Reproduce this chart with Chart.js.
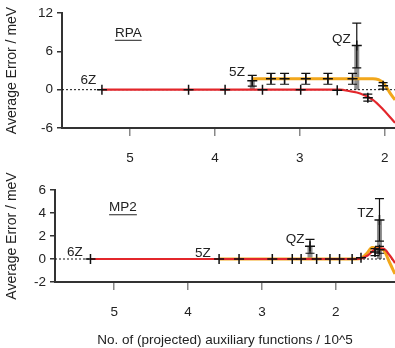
<!DOCTYPE html>
<html>
<head>
<meta charset="utf-8">
<script src="https://cdn.jsdelivr.net/npm/chart.js@4"></script>
<style>
  body { margin: 0; background: #fff; }
  #wrap { position: relative; width: 395px; height: 348px; }
  canvas { position: absolute; left: 0; }
</style>
</head>
<body>
<div id="wrap">
  <canvas id="rpa" width="395" height="170" style="top:0"></canvas>
  <canvas id="mp2" width="395" height="178" style="top:170px"></canvas>
</div>
<script>
// --- RPA (top panel) ---
const rpaTicksX = [5, 4, 3, 2];
const rpaTicksY = [-6, 0, 6, 12];
const rpaRedCurveX = [5.33, 2.53, 2.41, 2.29, 2.14, 2.02, 1.88];
const rpaRedCurveY = [0, 0, -0.25, -0.6, -1.6, -3.1, -5.2];
const rpaOrCurveX = [3.56, 2.24, 2.14, 2.02, 1.94, 1.88];
const rpaOrCurveY = [1.7, 1.7, 1.7, 1.1, -0.5, -1.6];
const rpaPtsX = [5.33, 4.31, 3.88, 3.44, 2.99, 2.56, 2.20, 3.56, 3.34, 3.18, 2.93, 2.67, 2.38, 2.02, 2.33];
const rpaPtsY = [0, 0, 0, 0, 0, -0.1, -1.25, 1.4, 1.7, 1.7, 1.7, 1.7, 1.7, 0.6, 6.9];
const rpaErr  = [0, 0, 0, 0, 0, 0, 0.55, 0.85, 0.85, 0.85, 0.85, 0.85, 0.85, 0.5, 3.5];
const rpaGrayX = [3.56, 2.33];
const rpaGrayY = [1.4, 6.9];

// --- MP2 (bottom panel) ---
const mp2TicksX = [5, 4, 3, 2];
const mp2TicksY = [-2, 0, 2, 4, 6];
const mp2RedCurveX = [5.32, 1.70, 1.57, 1.45, 1.36, 1.27, 1.20];
const mp2RedCurveY = [0, 0, 0.3, 0.9, 0.9, 0.3, -0.35];
const mp2OrCurveX = [3.58, 1.74, 1.65, 1.58, 1.51, 1.36, 1.27, 1.20];
const mp2OrCurveY = [0, 0, 0.1, 0.5, 1.0, 0.8, -0.35, -1.3];
const mp2PtsX = [5.32, 3.58, 3.31, 2.86, 2.59, 2.47, 2.26, 2.08, 1.95, 1.78, 1.66, 1.47, 1.41, 2.35, 1.41];
const mp2PtsY = [0, 0, 0, 0, 0, 0, 0, 0, 0, 0, 0.1, 0.6, 0.8, 1.1, 3.4];
const mp2Err  = [0, 0, 0, 0, 0, 0, 0, 0, 0, 0, 0, 0.3, 0.3, 0.6, 1.85];
const mp2GrayX = [2.35, 1.41];
const mp2GrayY = [1.1, 3.4];

const RED = '#e3262b';
const ORANGE = '#f2a71b';
const FONT = '"Liberation Sans", Arial, sans-serif';

const zip = (xs, ys) => xs.map((x, i) => ({ x, y: ys[i] }));

const extras = {
    id: 'extras',
    beforeDatasetsDraw(chart, args, opts) {
        const { ctx, scales: { x, y } } = chart;
        ctx.save();
        ctx.fillStyle = 'rgba(105,105,105,0.75)';
        opts.grayX.forEach((v, i) => {
            const px = x.getPixelForValue(v);
            const y0 = y.getPixelForValue(0), y1 = y.getPixelForValue(opts.grayY[i]);
            ctx.fillRect(px - 2.5, y1, 5, y0 - y1);
        });
        ctx.restore();
    },
    afterDatasetsDraw(chart, args, opts) {
        const { ctx, scales: { x, y } } = chart;
        ctx.save();
        ctx.strokeStyle = '#111';
        ctx.lineWidth = 1.2;
        opts.errX.forEach((v, i) => {
            const e = opts.err[i];
            if (!e) return;
            const px = x.getPixelForValue(v);
            const lo = y.getPixelForValue(opts.errY[i] - e), hi = y.getPixelForValue(opts.errY[i] + e);
            ctx.beginPath();
            ctx.moveTo(px, lo); ctx.lineTo(px, hi);
            ctx.moveTo(px - 4.5, lo); ctx.lineTo(px + 4.5, lo);
            ctx.moveTo(px - 4.5, hi); ctx.lineTo(px + 4.5, hi);
            ctx.stroke();
        });
        ctx.fillStyle = '#222';
        ctx.font = '13.5px ' + FONT;
        ctx.textAlign = 'center';
        ctx.textBaseline = 'middle';
        opts.labels.forEach(l => {
            const px = x.getPixelForValue(l.x), py = y.getPixelForValue(l.y);
            ctx.fillText(l.text, px, py);
            if (l.under) {
                const w = ctx.measureText(l.text).width;
                ctx.lineWidth = 1;
                ctx.strokeStyle = '#222';
                ctx.beginPath();
                ctx.moveTo(px - w / 2, py + 7.5); ctx.lineTo(px + w / 2, py + 7.5);
                ctx.stroke();
            }
        });
        ctx.restore();
    }
};

function makeChart(id, cfg) {
    const [xmin, xmax] = cfg.xRange;
    return new Chart(document.getElementById(id), {
        type: 'scatter',
        data: {
            datasets: [
                {
                    data: zip(cfg.ptsX, cfg.ptsY), pointStyle: 'cross', pointRadius: 5,
                    borderColor: '#111', borderWidth: 1.5, showLine: false, order: 0
                },
                {
                    data: zip(cfg.orX, cfg.orY), showLine: true, borderColor: ORANGE, borderWidth: 3,
                    pointRadius: 0, cubicInterpolationMode: 'monotone', order: 2
                },
                {
                    data: zip(cfg.redX, cfg.redY), showLine: true, borderColor: RED, borderWidth: 2.2,
                    pointRadius: 0, cubicInterpolationMode: 'monotone', order: 1
                },
                {
                    data: [{ x: xmax, y: 0 }, { x: xmin, y: 0 }], showLine: true, borderColor: '#111',
                    borderWidth: 1, borderDash: [2, 2], pointRadius: 0, order: 3
                }
            ]
        },
        options: {
            responsive: false,
            animation: false,
            devicePixelRatio: 1,
            layout: { autoPadding: false, padding: { top: cfg.top, left: 0, right: 0, bottom: 0 } },
            plugins: {
                legend: { display: false },
                tooltip: { enabled: false },
                extras: {
                    grayX: cfg.grayX, grayY: cfg.grayY,
                    errX: cfg.ptsX, errY: cfg.ptsY, err: cfg.err,
                    labels: cfg.labels
                }
            },
            scales: {
                x: {
                    type: 'linear', reverse: true, min: xmin, max: xmax,
                    afterBuildTicks: s => { s.ticks = cfg.ticksX.map(v => ({ value: v })); },
                    afterFit: s => { s.height = cfg.xH; s.paddingLeft = 0; s.paddingRight = 0; },
                    grid: { drawOnChartArea: false, tickLength: 8, color: '#888', lineWidth: 1.5 },
                    border: { color: '#333', width: 2 },
                    ticks: { color: '#222', font: { family: FONT, size: 13.5 }, padding: 14, maxRotation: 0 },
                    title: cfg.xTitle ? {
                        display: true, text: cfg.xTitle, color: '#222',
                        font: { family: FONT, size: 13.5 }, padding: { top: 0, bottom: 0 }
                    } : { display: false }
                },
                y: {
                    min: cfg.ticksY[0], max: cfg.ticksY[cfg.ticksY.length - 1],
                    afterBuildTicks: s => { s.ticks = cfg.ticksY.map(v => ({ value: v })); },
                    afterFit: s => { s.width = cfg.yW; },
                    grid: { drawOnChartArea: false, tickLength: 5, color: '#333', lineWidth: 1.5 },
                    border: { color: '#333', width: 2 },
                    ticks: { color: '#222', font: { family: FONT, size: 13.5 }, padding: 4 },
                    title: {
                        display: true, text: 'Average Error / meV', color: '#222',
                        font: { family: FONT, size: 14 }, padding: { top: 4, bottom: 0 }
                    }
                }
            }
        },
        plugins: [extras]
    });
}

makeChart('rpa', {
    xRange: [1.88, 5.8], ticksX: rpaTicksX, ticksY: rpaTicksY,
    ptsX: rpaPtsX, ptsY: rpaPtsY, err: rpaErr,
    redX: rpaRedCurveX, redY: rpaRedCurveY, orX: rpaOrCurveX, orY: rpaOrCurveY,
    grayX: rpaGrayX, grayY: rpaGrayY,
    top: 13, xH: 42, yW: 62,
    labels: [
        { text: 'RPA', x: 5.02, y: 8.9, under: true },
        { text: '6Z', x: 5.49, y: 1.4 },
        { text: '5Z', x: 3.74, y: 2.65 },
        { text: 'QZ', x: 2.51, y: 7.9 }
    ]
});

makeChart('mp2', {
    xRange: [1.2, 5.8], ticksX: mp2TicksX, ticksY: mp2TicksY,
    ptsX: mp2PtsX, ptsY: mp2PtsY, err: mp2Err,
    redX: mp2RedCurveX, redY: mp2RedCurveY, orX: mp2OrCurveX, orY: mp2OrCurveY,
    grayX: mp2GrayX, grayY: mp2GrayY,
    top: 20, xH: 66, yW: 55,
    xTitle: 'No. of (projected) auxiliary functions / 10^5',
    labels: [
        { text: 'MP2', x: 4.88, y: 4.5, under: true },
        { text: '6Z', x: 5.53, y: 0.6 },
        { text: '5Z', x: 3.8, y: 0.5 },
        { text: 'QZ', x: 2.55, y: 1.75 },
        { text: 'TZ', x: 1.6, y: 4.0 }
    ]
});
</script>
</body>
</html>
